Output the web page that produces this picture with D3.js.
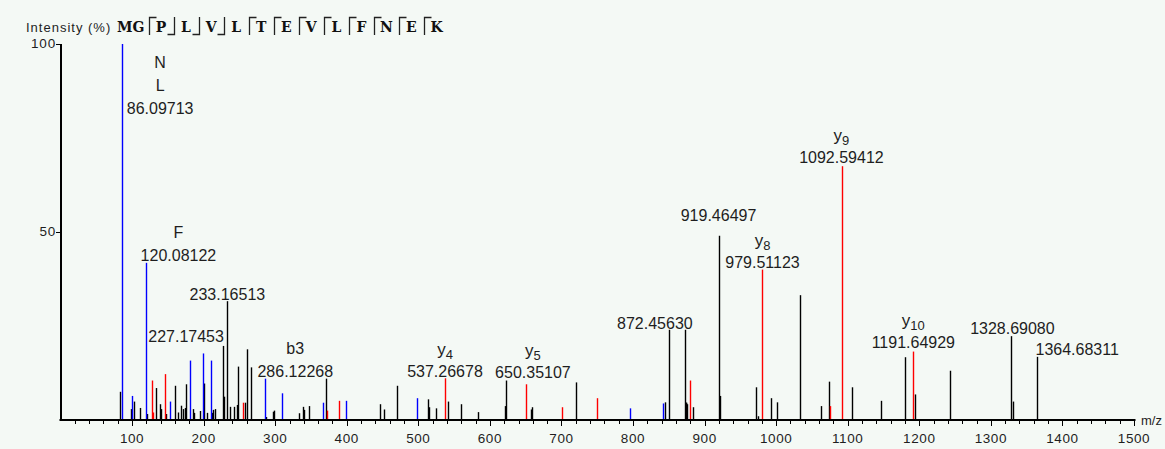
<!DOCTYPE html>
<html><head><meta charset="utf-8">
<script src="https://cdn.jsdelivr.net/npm/d3@7"></script>
<style>html,body{margin:0;padding:0;background:#f4f9f5;}svg{display:block}</style>
</head><body>
<svg id="chart" width="1165" height="449"></svg>
<script>
// ---------- data ----------
const xTickValues = [100,200,300,400,500,600,700,800,900,1000,1100,1200,1300,1400,1500];
const yTickValues = [50,100];
const peptide = ["M","G","P","L","V","L","T","E","V","L","F","N","E","K"];
// bracket marks between residue i-1 and i (top: ⌈ , bottom: ⌋)
const cleavageMarks = ["","","top","bottom","bottom","bottom","top","top","top","top","top","top","top","top"];

// unassigned peaks (black): [m/z, intensity %]
const otherPeaks = [
  [83.8,7.5],[98.8,2.9],[102.4,4.9],[110.4,3.2],[121.1,1.6],[134.1,8.5],[139.3,4.2],[141.1,2.9],
  [148.1,1.6],[159.3,9.1],[164.5,2.0],[167.7,3.8],[171.4,2.9],[173.3,3.2],[175.1,9.5],[184.9,2.9],
  [187.2,1.9],[194.7,2.4],[200.8,9.7],[205.0,1.9],[211.0,1.9],[213.4,2.7],[215.2,2.9],[227.17453,19.7],
  [229.1,6.2],[233.16513,31.6],[237.5,3.5],[242.1,3.5],[246.3,4.0],[248.3,14.2],[257.5,4.6],[260.9,18.8],
  [265.5,14.0],[286.6,0.8],[297.2,2.2],[299.0,2.5],[333.9,1.8],[338.6,3.5],[340.9,2.7],[346.9,3.7],
  [370.7,11.0],[446.1,4.2],[452.7,2.8],[470.5,9.1],[513.7,5.5],[515.6,3.4],[524.9,3.1],[541.7,4.9],
  [559.9,4.2],[584.0,2.1],[620.8,3.7],[622.7,10.5],[657.7,2.8],[659.1,3.4],[721.0,10.0],[845.3,4.7],
  [849.9,24.0],[872.4563,24.0],[873.6,4.6],[874.6,4.6],[875.6,4.2],[883.1,3.4],[919.46497,49.0],[921.2,6.4],
  [972.5,8.7],[974.3,1.0],[993.0,5.8],[1001.4,4.7],[1033.0,33.2],[1062.9,3.7],[1073.5,10.2],[1106.2,8.7],
  [1146.7,5.1],[1179.7,16.7],[1193.7,6.8],[1242.6,13.1],[1328.6908,22.3],[1331.5,4.9],[1364.68311,16.8]
];
// blue peaks
const bluePeaks = [
  [86.09713,100],[100.3,6.4],[120.08122,41.8],[153.7,4.9],[181.6,15.8],[199.4,17.7],[209.6,15.8],
  [286.12268,11.0],[309.2,7.1],[367.0,4.6],[399.2,5.1],[498.4,5.8],[795.4,3.1],[842.0,4.4]
];
// red peaks
const redPeaks = [
  [127.6,10.5],[129.5,2.0],[146.7,12.2],[255.3,4.6],[372.6,2.5],[389.8,5.1],[537.26678,11.1],
  [650.35107,9.5],[701.4,3.4],[749.9,5.8],[879.3,10.5],[979.51123,40.0],[1074.9,3.7],
  [1092.59412,67.5],[1191.64929,18.2]
];
// annotations: m/z, intensity, ion name, ion subscript, value text
const annotMz    = [86.09713, 120.08122, 233.16513, 227.17453, 286.12268, 537.26678, 650.35107, 872.4563, 919.46497, 979.51123, 1092.59412, 1191.64929, 1328.6908, 1364.68311];
const annotInt   = [100, 41.8, 31.6, 19.7, 11.0, 11.1, 9.5, 24.0, 49.0, 40.0, 67.5, 18.2, 22.3, 16.8];
const annotIon   = [["N","L"], ["F"], [], [], ["b3"], ["y","4"], ["y","5"], [], [], ["y","8"], ["y","9"], ["y","10"], [], []];
const annotText  = ["86.09713","120.08122","233.16513","227.17453","286.12268","537.26678","650.35107","872.45630","919.46497","979.51123","1092.59412","1191.64929","1328.69080","1364.68311"];

// ---------- layout (not data) ----------
const labelDx = [38, 32, 0, -37, 30, 0, 7, -30, 0, 1, -1, 0, 1, 40];
const labelDy = [64, -8, -7, -10, -8, -7, -12, -7, -21, -8, -9, -10, -8, -8];

const svg = d3.select("#chart");
const x = d3.scaleLinear().domain([0,1500]).range([60.5,1134]);
const y = d3.scaleLinear().domain([0,100]).range([420,44]);
const font = "'Liberation Sans', Arial, sans-serif";
const textCol = "#1e1e1e";

// peaks
function drawPeaks(data, color){
  svg.append("g").selectAll("line").data(data).join("line")
    .attr("x1", d => Math.round(x(d[0]))+0.5).attr("x2", d => Math.round(x(d[0]))+0.5)
    .attr("y1", y(0)).attr("y2", d => y(d[1]))
    .attr("stroke", color).attr("stroke-width", 1.4);
}
drawPeaks(otherPeaks, "#000");
drawPeaks(bluePeaks, "#0000ff");
drawPeaks(redPeaks, "#ff0000");

// x axis
const xAxisG = svg.append("g").attr("transform", `translate(0,${y(0)})`);
xAxisG.append("line").attr("x1", x(0)-1).attr("x2", x(1500)+1.5).attr("y1",0).attr("y2",0)
  .attr("stroke","#000").attr("stroke-width",2);
const minor = d3.range(20,1501,20).filter(v => v % 100 !== 0);
xAxisG.selectAll("line.minor").data(minor).join("line").attr("class","minor")
  .attr("x1", d=>Math.round(x(d))+0.5).attr("x2", d=>Math.round(x(d))+0.5).attr("y1",0).attr("y2",4)
  .attr("stroke","#000").attr("stroke-width",1);
xAxisG.selectAll("line.major").data(xTickValues).join("line").attr("class","major")
  .attr("x1", d=>Math.round(x(d))+0.5).attr("x2", d=>Math.round(x(d))+0.5).attr("y1",0).attr("y2",6)
  .attr("stroke","#000").attr("stroke-width",1);
xAxisG.selectAll("text").data(xTickValues).join("text")
  .attr("x", d=>x(d)).attr("y", 23).attr("text-anchor","middle")
  .attr("font-family", font).attr("font-size", 13.5).attr("letter-spacing", 0.6).attr("fill", textCol)
  .text(d=>d);
svg.append("text").attr("x", 1141).attr("y", y(0)+5).attr("font-family", font).attr("font-size",13)
  .attr("fill", textCol).text("m/z");

// y axis
const yAxisG = svg.append("g");
yAxisG.append("line").attr("x1",61).attr("x2",61).attr("y1",y(100)).attr("y2",y(0)+1)
  .attr("stroke","#000").attr("stroke-width",2);
yAxisG.selectAll("line.t").data(yTickValues).join("line").attr("class","t")
  .attr("x1",56).attr("x2",61).attr("y1",d=>Math.round(y(d))+0.5).attr("y2",d=>Math.round(y(d))+0.5)
  .attr("stroke","#000").attr("stroke-width",1);
yAxisG.selectAll("text").data(yTickValues).join("text")
  .attr("x",56).attr("y",d=>y(d)+4).attr("text-anchor","end")
  .attr("font-family", font).attr("font-size",13.5).attr("letter-spacing",0.8).attr("fill",textCol)
  .text(d=>d);

// title
svg.append("text").attr("x",26).attr("y",32).attr("font-family",font).attr("font-size",13)
  .attr("letter-spacing",1).attr("fill",textCol).text("Intensity (%)");
const seqFont = "'DejaVu Serif', 'Liberation Serif', serif";
svg.append("text").attr("x",117).attr("y",32).attr("font-family",seqFont).attr("font-weight","bold")
  .attr("font-size",14).attr("fill","#111").text("MG");
const resX = d3.scaleLinear().domain([2,13]).range([161,436.5]);
svg.append("g").selectAll("text").data(peptide.slice(2)).join("text")
  .attr("x",(d,i)=>resX(i+2)).attr("y",32).attr("text-anchor","middle")
  .attr("font-family",seqFont).attr("font-weight","bold").attr("font-size",14).attr("fill","#111")
  .text(d=>d);
const marks = cleavageMarks.map((m,i)=>({m,i})).filter(d=>d.m);
const markG = svg.append("g").attr("stroke","#222").attr("stroke-width",1.3).attr("fill","none");
marks.forEach(d=>{
  const sx = Math.round(resX(d.i) - 12.5)+0.5;
  if(d.m==="top") markG.append("path").attr("d",`M${sx},35V17.5H${sx+7}`);
  else markG.append("path").attr("d",`M${sx-7},34.5H${sx}V17`);
});

// annotations
const ag = svg.append("g").attr("font-family",font).attr("fill",textCol);
annotMz.forEach((mz,i)=>{
  const cx = x(mz) + labelDx[i];
  const cy = y(annotInt[i]) + labelDy[i];
  ag.append("text").attr("x",cx).attr("y",cy+6).attr("text-anchor","middle").attr("font-size",16).text(annotText[i]);
  const ion = annotIon[i];
  if(ion.length===0) return;
  if(ion[0]==="y"){
    const t = ag.append("text").attr("x",cx).attr("y",cy-22+6).attr("text-anchor","middle").attr("font-size",17);
    t.append("tspan").text("y");
    t.append("tspan").attr("font-size",13).attr("dy",4).text(ion[1]);
  } else {
    ion.slice().reverse().forEach((s,k)=>{
      ag.append("text").attr("x",cx).attr("y",cy-23*(k+1)+6).attr("text-anchor","middle").attr("font-size",16).text(s);
    });
  }
});
</script>
</body></html>
